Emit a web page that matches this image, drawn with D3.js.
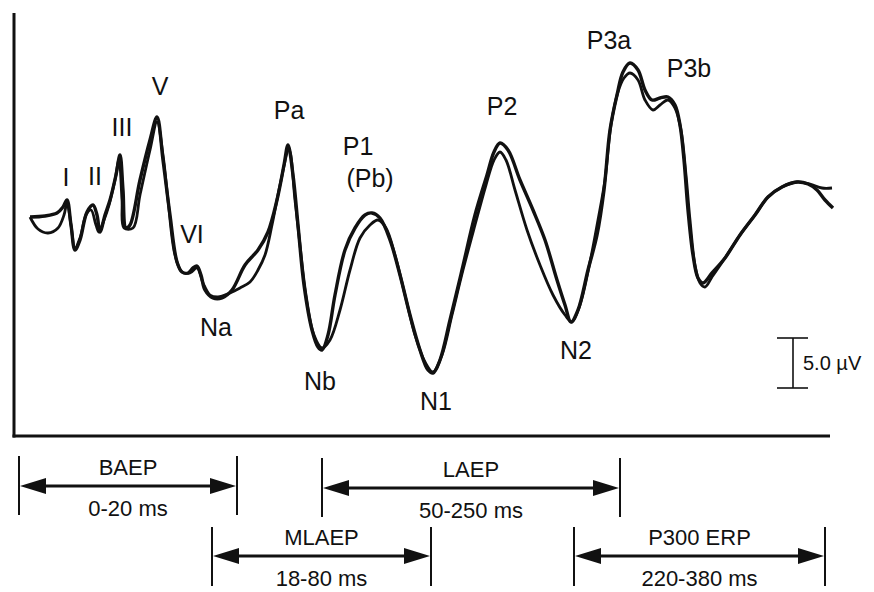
<!DOCTYPE html>
<html><head><meta charset="utf-8">
<script src="https://cdn.jsdelivr.net/npm/d3@7"></script>
<style>body{margin:0;background:#fff}svg{display:block}text{font-family:"Liberation Sans",Arial,sans-serif;fill:#111}</style>
</head><body><svg id="c" width="874" height="592"></svg>
<script>
// schematic latency index (t) vs amplitude (µV)
const waveA = [[16,-0.2],[31,-0.1],[43,0.2],[49,0.8],[53,1.5],[57,-1.0],[61,-3.5],[66,-2.5],[73,0.3],[79,1.0],[83,0],[86,-1.7],[91,0],[96,1.5],[102,4.0],[106,6.0],[109,2.5],[112,-1.3],[116,-1.0],[126,3.5],[136,7.5],[143,9.8],[149,5.5],[156,0],[163,-4.7],[168,-5.7],[174,-5.8],[179,-5.3],[183,-5.1],[187,-6.0],[191,-7.5],[199,-8.3],[208,-8.3],[218,-7.5],[231,-5.0],[244,-3.5],[254,-1.7],[263,1.5],[270,5.0],[274,7.0],[279,4.0],[284,-1.0],[290,-7.0],[298,-11.5],[304,-13.2],[308,-13.5],[314,-12.0],[321,-8.0],[331,-3.5],[341,-1.3],[351,0],[358,0.2],[366,-0.3],[376,-2.5],[386,-6.0],[396,-10.0],[406,-13.5],[414,-15.5],[419,-15.8],[426,-14.5],[436,-10.5],[448,-5.5],[461,0],[473,4.0],[480,6.3],[486,7.2],[494,6.5],[506,3.5],[519,0.5],[531,-2.5],[543,-6.5],[551,-9.0],[557,-10.7],[564,-9.5],[574,-5.5],[583,-2.0],[590,2.5],[596,8.5],[603,12.0],[609,14.3],[616,15.2],[624,14.5],[631,12.5],[638,11.5],[646,11.7],[654,11.8],[661,11.0],[666,9.0],[670,5.5],[674,0.5],[679,-4.0],[684,-6.3],[689,-6.8],[698,-5.8],[711,-4.3],[726,-2.0],[741,0],[754,1.8],[768,2.8],[783,3.3],[794,3.1],[803,2.5],[811,1.5],[819,0.7]];
const waveB = [[16,-0.2],[24,-1.4],[34,-1.8],[44,-1.3],[50,0],[53,1.2],[57,-1.0],[61,-3.3],[66,-2.3],[72,0],[77,0.5],[82,-1.0],[85,-1.7],[90,-0.5],[95,1.0],[101,3.5],[105,5.5],[108,1.5],[110,-1.3],[119,-1.3],[126,2.0],[136,6.5],[143,9.3],[149,6.0],[154,1.5],[161,-4.0],[168,-5.7],[176,-5.8],[183,-5.3],[189,-6.8],[196,-8.0],[204,-8.2],[216,-7.8],[226,-7.3],[236,-6.7],[244,-5.5],[251,-4.0],[258,-1.0],[266,3.0],[275,6.5],[281,1.5],[286,-3.0],[292,-8.0],[300,-12.0],[308,-13.3],[316,-12.5],[326,-9.5],[336,-5.5],[346,-2.3],[356,-1.0],[364,-0.5],[372,-1.3],[381,-4.0],[391,-8.0],[401,-12.0],[411,-14.7],[419,-15.7],[428,-14.0],[438,-10.0],[449,-5.5],[461,-1.0],[472,3.0],[480,5.5],[486,6.3],[492,5.5],[501,2.5],[513,-1.5],[526,-5.0],[539,-8.0],[551,-10.0],[558,-10.7],[566,-9.0],[576,-4.7],[584,-0.5],[591,3.5],[597,9.0],[604,12.3],[610,13.7],[616,14.2],[624,13.5],[631,11.5],[639,10.5],[646,11.0],[654,11.5],[661,10.7],[667,8.5],[672,4.0],[676,-0.5],[681,-5.0],[686,-6.8],[691,-7.2],[698,-6.2],[711,-4.3],[726,-2.0],[741,0],[754,1.8],[768,2.8],[783,3.3],[796,3.1],[808,2.7],[818,2.7]];
const peakNames = ["I","II","III","V","VI","Na","Pa","P1","(Pb)","Nb","N1","P2","N2","P3a","P3b"];
const peakT     = [52,81,108,146,178,202,275,344,356,306,422,488,562,595,675];
const peakV     = [3.8,3.9,8.8,12.9,-1.9,-11.2,10.5,6.9,3.7,-16.6,-18.6,10.9,-13.5,17.5,14.7];
const rangeNames  = ["BAEP","LAEP","MLAEP","P300 ERP"];
const rangeLabels = ["0-20 ms","50-250 ms","18-80 ms","220-380 ms"];
const rangeStart  = [5,308,198,560];
const rangeEnd    = [223,606,417,811];
const rangeRow    = [0,0,1,1];
const scaleBarT = 779, scaleBarFrom = -12.3, scaleBarUV = 5.0;

const svg = d3.select("#c");
const x = d3.scaleLinear().domain([0,816]).range([14,830]);
const y = d3.scaleLinear().domain([-22.1,20.2]).range([436,13]);

// axes (frame lines)
svg.append("line").attr("x1",x(0)).attr("x2",x(0)).attr("y1",y(20.2)).attr("y2",y(-22.1)+1.5).attr("stroke","#111").attr("stroke-width",3);
svg.append("line").attr("x1",x(0)-1.5).attr("x2",x(816)).attr("y1",y(-22.1)).attr("y2",y(-22.1)).attr("stroke","#111").attr("stroke-width",3);

const line = d3.line().x(d=>x(d[0])).y(d=>y(d[1])).curve(d3.curveCatmullRom.alpha(0.5));
svg.append("path").datum(waveB).attr("d",line).attr("fill","none").attr("stroke","#111").attr("stroke-width",2.8).attr("stroke-linejoin","round");
svg.append("path").datum(waveA).attr("d",line).attr("fill","none").attr("stroke","#111").attr("stroke-width",3.4).attr("stroke-linejoin","round");

// peak labels
svg.selectAll("text.pk").data(peakNames).join("text").attr("class","pk")
  .attr("x",(d,i)=>x(peakT[i])).attr("y",(d,i)=>y(peakV[i]))
  .attr("text-anchor","middle").attr("dominant-baseline","central")
  .attr("font-size",25).text(d=>d);

// scale bar
const sb = svg.append("g");
const sx = x(scaleBarT);
sb.append("line").attr("x1",sx).attr("x2",sx).attr("y1",y(scaleBarFrom)).attr("y2",y(scaleBarFrom-scaleBarUV)).attr("stroke","#111").attr("stroke-width",1.6);
[scaleBarFrom, scaleBarFrom-scaleBarUV].forEach(v=>sb.append("line").attr("x1",sx-16).attr("x2",sx+15).attr("y1",y(v)).attr("y2",y(v)).attr("stroke","#111").attr("stroke-width",1.6));
sb.append("text").attr("x",sx+10).attr("y",y(scaleBarFrom-scaleBarUV/2)).attr("dominant-baseline","central").attr("font-size",20).text(scaleBarUV.toFixed(1)+" \u00B5V");

// latency ranges
const rowArrowY = [486,556], rowTop=[456,527], rowBot=[515,586];
rangeNames.forEach((nm,i)=>{
  const r = rangeRow[i];
  const dy = nm==="LAEP"?2:0;
  const x0 = x(rangeStart[i]), x1 = x(rangeEnd[i]);
  const ay = rowArrowY[r] + dy;
  const g = svg.append("g");
  [x0,x1].forEach(xx=>g.append("line").attr("x1",xx).attr("x2",xx).attr("y1",rowTop[r]+dy).attr("y2",rowBot[r]+dy).attr("stroke","#111").attr("stroke-width",2));
  g.append("line").attr("x1",x0+10).attr("x2",x1-10).attr("y1",ay).attr("y2",ay).attr("stroke","#111").attr("stroke-width",3);
  const L=26,H=8;
  g.append("path").attr("d",`M${x0+1},${ay}L${x0+1+L},${ay-H}L${x0+1+L},${ay+H}Z`).attr("fill","#111");
  g.append("path").attr("d",`M${x1-1},${ay}L${x1-1-L},${ay-H}L${x1-1-L},${ay+H}Z`).attr("fill","#111");
  const cx=(x0+x1)/2;
  g.append("text").attr("x",cx).attr("y",ay-19).attr("text-anchor","middle").attr("dominant-baseline","central").attr("font-size",22).text(nm);
  g.append("text").attr("x",cx).attr("y",ay+22).attr("text-anchor","middle").attr("dominant-baseline","central").attr("font-size",22).text(rangeLabels[i]);
});
</script></body></html>
